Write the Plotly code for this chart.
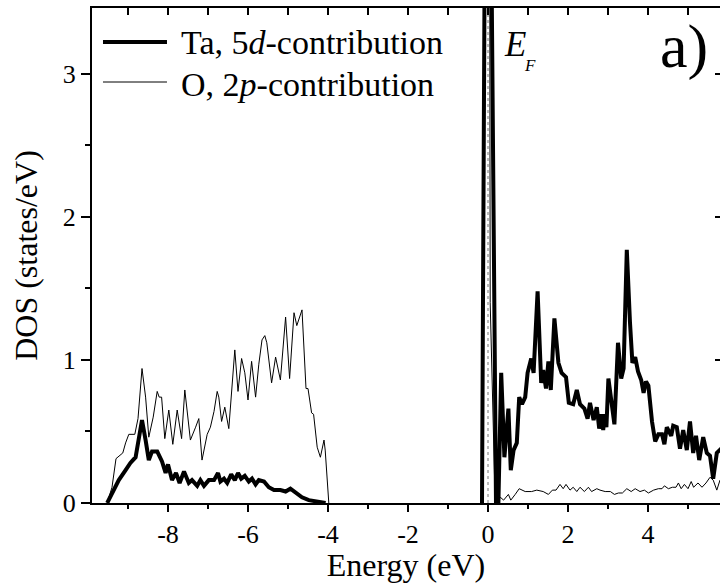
import plotly.graph_objects as go

# ---------------- data ----------------
ta_energy = [-9.52, -9.35, -9.23, -9.06, -8.94, -8.81, -8.73, -8.65, -8.56, -8.48, -8.40, -8.27,
             -8.15, -8.06, -8.00, -7.90, -7.80, -7.71, -7.60, -7.48, -7.40, -7.27, -7.19, -7.10,
             -6.98, -6.85, -6.75, -6.69, -6.60, -6.52, -6.42, -6.33, -6.25, -6.17, -6.08, -5.98,
             -5.90, -5.81, -5.73, -5.60, -5.48, -5.35, -5.19, -5.06, -4.94, -4.81, -4.65, -4.48,
             -4.31, -4.06, None,
             -0.15, -0.08, 0.00, 0.08, 0.20, 0.26, 0.33, 0.41, 0.51, 0.57, 0.64, 0.72, 0.78, 0.85,
             0.93, 0.99, 1.08, 1.14, 1.24, 1.33, 1.38, 1.45, 1.51, 1.57, 1.66, 1.76, 1.84, 1.95,
             2.02, 2.13, 2.22, 2.30, 2.41, 2.49, 2.55, 2.64, 2.72, 2.78, 2.83, 2.88, 2.92, 2.96,
             3.01, 3.10, 3.16, 3.25, 3.33, 3.39, 3.47, 3.55, 3.61, 3.68, 3.75, 3.83, 3.89, 3.95,
             4.01, 4.10, 4.18, 4.26, 4.35, 4.41, 4.47, 4.58, 4.63, 4.72, 4.80, 4.88, 4.97, 5.05,
             5.13, 5.20, 5.28, 5.38, 5.47, 5.55, 5.63, 5.72, 5.80, 5.90]
ta_dos = [0.00, 0.09, 0.16, 0.23, 0.28, 0.32, 0.44, 0.58, 0.44, 0.30, 0.36, 0.36,
          0.29, 0.21, 0.27, 0.16, 0.21, 0.14, 0.22, 0.14, 0.16, 0.12, 0.16, 0.12,
          0.16, 0.16, 0.21, 0.15, 0.17, 0.14, 0.20, 0.16, 0.21, 0.17, 0.19, 0.15,
          0.17, 0.13, 0.16, 0.15, 0.11, 0.09, 0.09, 0.08, 0.10, 0.07, 0.04, 0.02,
          0.01, 0.00, None,
          0.00, 4.00, 6.00, 4.00, 0.00, 0.00, 0.91, 0.32, 0.66, 0.23, 0.37, 0.42, 0.74, 0.69,
          0.74, 0.91, 1.01, 0.91, 1.48, 0.84, 0.93, 0.80, 0.99, 0.79, 1.29, 0.98, 0.91, 0.88,
          0.70, 0.69, 0.79, 0.69, 0.66, 0.59, 0.70, 0.58, 0.67, 0.52, 0.62, 0.51, 0.62, 0.53,
          0.87, 0.70, 0.55, 1.12, 0.87, 0.94, 1.77, 1.26, 0.98, 1.02, 0.92, 0.86, 0.77, 0.85,
          0.82, 0.57, 0.43, 0.48, 0.48, 0.41, 0.53, 0.47, 0.54, 0.53, 0.38, 0.51, 0.37, 0.57,
          0.35, 0.47, 0.30, 0.46, 0.35, 0.33, 0.17, 0.35, 0.37, 0.40]

o_energy = [-9.52, -9.40, -9.30, -9.19, -9.13, -9.06, -8.98, -8.83, -8.75, -8.65, -8.56, -8.48,
            -8.41, -8.37, -8.27, -8.22, -8.16, -8.08, -7.98, -7.88, -7.77, -7.66, -7.58, -7.44,
            -7.31, -7.23, -7.15, -7.02, -6.94, -6.85, -6.77, -6.73, -6.66, -6.58, -6.48, -6.40,
            -6.33, -6.25, -6.16, -6.08, -6.00, -5.91, -5.81, -5.73, -5.65, -5.58, -5.53, -5.41,
            -5.31, -5.19, -5.06, -4.96, -4.85, -4.78, -4.65, -4.55, -4.50, -4.41, -4.36, -4.27,
            -4.19, -4.10, -4.07, -3.98, None,
            -0.13, -0.07, 0.04, 0.055, 0.18, 0.22, 0.31, 0.39, 0.51, 0.57, 0.68, 0.78, 0.93,
            1.09, 1.22, 1.38, 1.51, 1.61, 1.70, 1.80, 1.88, 1.95, 2.05, 2.13, 2.22, 2.30, 2.41,
            2.51, 2.59, 2.72, 2.80, 2.93, 3.06, 3.16, 3.26, 3.36, 3.47, 3.58, 3.68, 3.80, 3.91,
            4.01, 4.14, 4.26, 4.35, 4.41, 4.51, 4.61, 4.70, 4.76, 4.83, 4.91, 5.00, 5.08, 5.14,
            5.25, 5.35, 5.45, 5.55, 5.63, 5.72, 5.80, 5.90]
o_dos = [0.00, 0.11, 0.31, 0.34, 0.35, 0.42, 0.48, 0.48, 0.59, 0.94, 0.74, 0.46,
         0.56, 0.60, 0.78, 0.74, 0.74, 0.45, 0.65, 0.41, 0.65, 0.45, 0.79, 0.44,
         0.53, 0.59, 0.30, 0.48, 0.53, 0.64, 0.78, 0.74, 0.57, 0.67, 0.52, 0.84,
         1.07, 0.78, 1.01, 0.91, 0.72, 0.99, 0.74, 0.97, 1.14, 1.17, 1.12, 0.84,
         1.02, 0.86, 1.30, 0.87, 1.33, 1.24, 1.35, 0.80, 0.80, 0.63, 0.62, 0.39,
         0.32, 0.44, 0.37, 0.00, None,
         0.00, 4.50, 4.50, 1.40, 0.00, 0.00, 0.04, 0.02, 0.06, 0.02, 0.06, 0.10, 0.08,
         0.08, 0.09, 0.08, 0.06, 0.09, 0.09, 0.13, 0.10, 0.13, 0.09, 0.11, 0.08, 0.11, 0.08,
         0.11, 0.08, 0.10, 0.09, 0.08, 0.08, 0.06, 0.07, 0.07, 0.10, 0.08, 0.10, 0.08, 0.09,
         0.07, 0.09, 0.10, 0.10, 0.12, 0.10, 0.11, 0.11, 0.14, 0.10, 0.13, 0.10, 0.15, 0.11,
         0.14, 0.11, 0.14, 0.18, 0.16, 0.09, 0.16, 0.19]

x_ticks = [-8, -6, -4, -2, 0, 2, 4]
y_ticks = [0, 1, 2, 3]
fermi_energy = 0

ta_label = "Ta, 5<i>d</i>-contribution"
o_label = "O, 2<i>p</i>-contribution"

FONT = "Liberation Serif"

fig = go.Figure()
fig.add_trace(go.Scatter(x=o_energy, y=o_dos, mode="lines", name="O, 2p-contribution",
                         line=dict(color="black", width=1), showlegend=False))
fig.add_trace(go.Scatter(x=ta_energy, y=ta_dos, mode="lines", name="Ta, 5d-contribution",
                         line=dict(color="black", width=4), showlegend=False))
# empty trace to activate mirrored axes
fig.add_trace(go.Scatter(x=[None], y=[None], xaxis="x2", yaxis="y2", showlegend=False,
                         hoverinfo="skip"))

# Fermi level dotted line
fig.add_shape(type="line", xref="x", yref="paper", x0=fermi_energy, x1=fermi_energy, y0=0, y1=1,
              line=dict(color="#777777", width=1, dash="dot"), layer="below")

# custom legend
fig.add_shape(type="line", xref="paper", yref="paper", x0=0.0175, x1=0.1194, y0=0.9313, y1=0.9313,
              line=dict(color="black", width=4))
fig.add_shape(type="line", xref="paper", yref="paper", x0=0.0175, x1=0.1194, y0=0.8505, y1=0.8505,
              line=dict(color="black", width=1))
fig.add_annotation(xref="paper", yref="paper", x=0.138, y=0.930, xanchor="left", yanchor="middle",
                   text=ta_label, showarrow=False, font=dict(family=FONT, size=34, color="black"))
fig.add_annotation(xref="paper", yref="paper", x=0.138, y=0.845, xanchor="left", yanchor="middle",
                   text=o_label, showarrow=False, font=dict(family=FONT, size=34, color="black"))

# E_F label
fig.add_annotation(xref="paper", yref="paper", x=(502 - 92) / 628, y=(503 - 44.5) / 495,
                   xanchor="left", yanchor="middle", text="<i>E</i>", showarrow=False,
                   font=dict(family=FONT, size=35, color="black"))
fig.add_annotation(xref="paper", yref="paper", x=(522 - 92) / 628, y=(503 - 66) / 495,
                   xanchor="left", yanchor="middle", text="<i>F</i>", showarrow=False,
                   font=dict(family=FONT, size=17, color="black"))

# panel label
fig.add_annotation(xref="paper", yref="paper", x=(658 - 92) / 628, y=(503 - 47) / 495,
                   xanchor="left", yanchor="middle", text="a)", showarrow=False,
                   font=dict(family=FONT, size=62, color="black"))

fig.update_layout(
    width=720, height=583,
    margin=dict(l=92, r=0, t=8, b=80),
    paper_bgcolor="white", plot_bgcolor="white",
    font=dict(family=FONT, color="black"),
    xaxis=dict(range=[-9.9, 5.8], tickmode="array", tickvals=x_ticks,
               ticktext=[str(v) for v in x_ticks],
               ticks="outside", ticklen=7, tickwidth=1.5, tickcolor="black",
               minor=dict(dtick=1, tick0=0, ticks="outside", ticklen=4, tickwidth=1.5, tickcolor="black"),
               showline=True, linecolor="black", linewidth=2, showgrid=False, zeroline=False,
               tickfont=dict(family=FONT, size=26),
               title=dict(text="Energy (eV)", font=dict(family=FONT, size=32), standoff=4)),
    xaxis2=dict(overlaying="x", side="top", matches="x", anchor="y",
                tickmode="linear", tick0=0, dtick=1, ticks="inside", ticklen=7, tickwidth=1.5,
                tickcolor="black", showticklabels=False, showline=True, linecolor="black",
                linewidth=2, showgrid=False, zeroline=False),
    yaxis=dict(range=[0, 3.46], tickmode="array", tickvals=y_ticks,
               ticktext=[str(v) for v in y_ticks],
               ticks="outside", ticklen=9, tickwidth=1.5, tickcolor="black",
               minor=dict(dtick=0.5, tick0=0, ticks="outside", ticklen=5, tickwidth=1.5, tickcolor="black"),
               showline=True, linecolor="black", linewidth=2, showgrid=False, zeroline=False,
               tickfont=dict(family=FONT, size=26),
               title=dict(text="DOS (states/eV)", font=dict(family=FONT, size=32), standoff=16)),
    yaxis2=dict(overlaying="y", side="right", matches="y", anchor="x",
                tickmode="linear", tick0=0, dtick=1, ticks="inside", ticklen=5, tickwidth=1.5,
                tickcolor="black", showticklabels=False, showline=False, showgrid=False,
                zeroline=False),
)

fig.write_html("out.html")
